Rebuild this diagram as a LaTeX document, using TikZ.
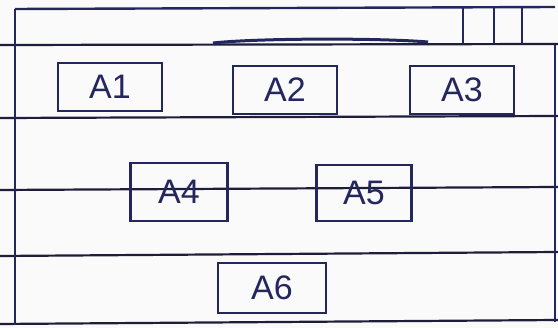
\documentclass[tikz,border=0pt]{standalone}
\usepackage{fontspec}
\setmainfont{Liberation Sans}
\definecolor{ink}{HTML}{24265E}
\definecolor{rule}{HTML}{1E1E3A}
\definecolor{paper}{HTML}{FAFAFA}
\begin{document}
\begin{tikzpicture}[x=1pt,y=-1pt,
  box/.style={draw=ink,line width=2.6pt,minimum width=#1,minimum height=48pt,inner sep=0pt,font=\fontsize{34}{34}\selectfont,text=ink},
  box/.default=104pt,
  ruleline/.style={draw=rule,line width=2.2pt},
  frame/.style={draw=ink,line width=2.4pt}]
\fill[paper] (0,0) rectangle (558,328);
\useasboundingbox (0,0) rectangle (558,328);
% ruled lines
\draw[ruleline] (0,45) -- (558,44);
\draw[ruleline] (0,118) -- (558,116);
\draw[ruleline] (0,190) -- (558,187);
\draw[ruleline] (0,256) -- (558,252);
\draw[ruleline] (0,324) -- (558,320);
% frame
\draw[frame] (15,9) -- (555,7);
\draw[frame] (15,9) -- (15,325);
\draw[frame] (555,45) -- (555,322);
% ticks top right
\draw[frame] (463,8) -- (463,44);
\draw[frame] (494,8) -- (494,44);
\draw[frame] (522,8) -- (522,44);
% curve
\draw[draw=ink,line width=3pt] (213,43) .. controls (260,38) and (380,38) .. (428,42);
% boxes
\node[box] (A1) at (110,87) {A1};
\node[box] (A2) at (285,90) {A2};
\node[box] (A3) at (462,90) {A3};
\node[box=97pt,minimum height=58pt] (A4) at (179,192) {A4};
\node[box=95pt,minimum height=56pt] (A5) at (364,193) {A5};
\node[box=108pt,minimum height=50pt] (A6) at (272,288) {A6};
\end{tikzpicture}
\end{document}
